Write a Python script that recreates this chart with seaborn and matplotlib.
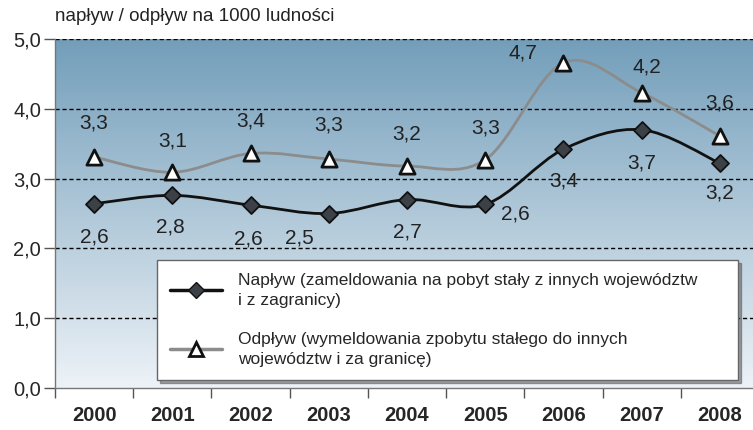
import numpy as np
import pandas as pd
import matplotlib
matplotlib.use('Agg')
import matplotlib.pyplot as plt
from matplotlib.path import Path
from matplotlib.patches import PathPatch
from matplotlib.lines import Line2D
import seaborn as sns

years = ['2000', '2001', '2002', '2003', '2004', '2005', '2006', '2007', '2008']
naplyw = [2.64, 2.76, 2.62, 2.50, 2.70, 2.63, 3.42, 3.70, 3.22]
odplyw = [3.31, 3.09, 3.36, 3.28, 3.18, 3.27, 4.66, 4.23, 3.61]
label_naplyw = 'Napływ (zameldowania na pobyt stały z innych województw\ni z zagranicy)'
label_odplyw = 'Odpływ (wymeldowania zpobytu stałego do innych\nwojewództw i za granicę)'
y_title = 'napływ / odpływ na 1000 ludności'

## label offsets in pixels (dx, dy), dy up is positive
off_nap = [(0, -33), (-2, -32), (-2, -34), (-29, -24), (0, -32), (30, -10), (0, -32), (0, -33), (0, -30)]
off_odp = [(0, 34), (0, 31), (0, 32), (0, 34), (0, 32), (0, 32), (-41, 10), (5, 26), (0, 33)]

sns.set_style('ticks')
plt.rcParams['font.family'] = ['Liberation Sans', 'DejaVu Sans']

df = pd.DataFrame({'x': range(len(years)), 'nap': naplyw, 'odp': odplyw})

fig = plt.figure(figsize=(7.53, 4.30), dpi=100)
ax = fig.add_axes([55/753, 42/430, 704/753, 349/430])
ax.set_xlim(-0.5, len(years) - 0.5)
ax.set_ylim(0, 5)

## gradient background
grad = np.linspace(0, 1, 256).reshape(-1, 1)
top = np.array([0.45, 0.62, 0.73])
bot = np.array([0.93, 0.95, 0.97])
img = top[None, None, :] * (1 - grad[:, :, None]) + bot[None, None, :] * grad[:, :, None]
ax.imshow(img, extent=[0, 1, 0, 1], transform=ax.transAxes, aspect='auto', zorder=0)

for yv in [1, 2, 3, 4, 5]:
    ax.axhline(yv, color='black', lw=1, ls=(0, (3, 2)), zorder=1)


def smooth_path(xs, ys):
    ## catmull-rom style bezier like the excel smoothed line
    pts = np.column_stack([xs, ys]).astype(float)
    verts = [pts[0]]
    codes = [Path.MOVETO]
    n = len(pts)
    for i in range(n - 1):
        p0 = pts[max(i - 1, 0)]
        p1 = pts[i]
        p2 = pts[i + 1]
        p3 = pts[min(i + 2, n - 1)]
        c1 = p1 + (p2 - p0) / 6
        c2 = p2 - (p3 - p1) / 6
        verts += [c1, c2, p2]
        codes += [Path.CURVE4] * 3
    return Path(verts, codes)


ax.add_patch(PathPatch(smooth_path(df['x'], df['odp']), fill=False, ec='#8c8c8c', lw=2, zorder=2))
ax.add_patch(PathPatch(smooth_path(df['x'], df['nap']), fill=False, ec='#111111', lw=2, zorder=2))

sns.scatterplot(data=df, x='x', y='nap', marker='D', s=75, color='#3b4146', edgecolor='#111111',
                linewidth=1.3, zorder=3, ax=ax)
sns.scatterplot(data=df, x='x', y='odp', marker='^', s=120, color='white', edgecolor='#111111',
                linewidth=2, zorder=3, ax=ax)

for i in range(len(years)):
    ax.annotate(f'{naplyw[i]:.1f}'.replace('.', ','), (i, naplyw[i]), xytext=off_nap[i],
                textcoords='offset pixels', ha='center', va='center', fontsize=15, color='#222222', zorder=4)
    ax.annotate(f'{odplyw[i]:.1f}'.replace('.', ','), (i, odplyw[i]), xytext=off_odp[i],
                textcoords='offset pixels', ha='center', va='center', fontsize=15, color='#222222', zorder=4)

## axes styling
ax.set_xlabel('')
ax.set_ylabel('')
ax.set_xticks(range(len(years)))
ax.set_xticklabels(years, fontsize=14.5, fontweight='bold')
ax.set_xticks(np.arange(-0.5, len(years), 1), minor=True)
ax.tick_params(axis='x', which='major', length=0, pad=13)
ax.tick_params(axis='x', which='minor', length=7, width=1, color='#555555', direction='out')
ax.set_yticks([0, 1, 2, 3, 4, 5])
ax.set_yticklabels(['0,0', '1,0', '2,0', '3,0', '4,0', '5,0'], fontsize=14.5)
ax.tick_params(axis='y', length=8, width=1, color='#555555', pad=2)
for s in ['top', 'right']:
    ax.spines[s].set_visible(False)
for s in ['left', 'bottom']:
    ax.spines[s].set_color('#777777')
    ax.spines[s].set_linewidth(1)

ax.text(0, 1.065, y_title, transform=ax.transAxes, fontsize=13.5, ha='left', va='center', color='#222222')

handles = [
    Line2D([], [], color='#111111', lw=2.5, marker='D', ms=8, mfc='#3b4146', mec='#111111'),
    Line2D([], [], color='#8c8c8c', lw=2.5, marker='^', ms=10, mfc='white', mec='#111111', mew=2),
]
leg = ax.legend(handles, [label_naplyw, label_odplyw], loc='lower left',
                bbox_to_anchor=(0.145, 0.023, 0.825, 0.347), mode='expand', fontsize=12.5,
                frameon=True, fancybox=False, shadow=True, framealpha=1, edgecolor='#666666',
                handlelength=3.0, handletextpad=0.9, labelspacing=1.4, borderpad=0.75,
                borderaxespad=0)
leg.get_frame().set_linewidth(1)
for t in leg.get_texts():
    t.set_linespacing(1.4)
leg.set_zorder(5)

fig.savefig('out.png', dpi=100)
